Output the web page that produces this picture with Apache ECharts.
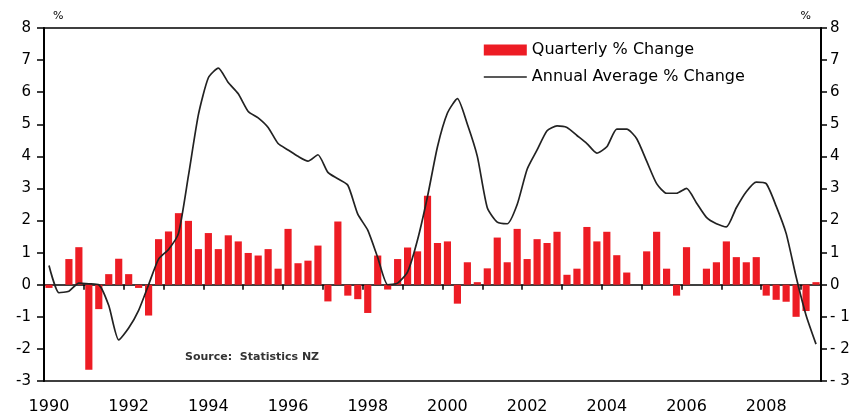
<!DOCTYPE html>
<html>
<head>
<meta charset="utf-8">
<script src="https://cdn.jsdelivr.net/npm/echarts@6/dist/echarts.min.js"></script>
<style>
  html, body { margin: 0; padding: 0; background: #fff; }
  #chart { width: 858px; height: 420px; }
</style>
</head>
<body>
<div id="chart"></div>
<script>
// quarters 1990 Q1 .. 2009 Q2
const quarters = []
for (let y = 1990; y <= 2009; y++) {
  for (let q = 1; q <= 4; q++) {
    if (y === 2009 && q > 2) break
    quarters.push(y + ' Q' + q)
  }
}

// Quarterly % change (bars)
const quarterlyChange = [
  -0.1, 0.0, 0.8, 1.17, -2.65, -0.76, 0.33, 0.81, 0.33, -0.1,
  -0.96, 1.42, 1.66, 2.23, 1.99, 1.11, 1.61, 1.11, 1.54, 1.35,
  0.99, 0.91, 1.11, 0.5, 1.74, 0.67, 0.75, 1.22, -0.52, 1.97,
  -0.34, -0.45, -0.88, 0.91, -0.15, 0.8, 1.16, 1.04, 2.77, 1.3,
  1.35, -0.59, 0.7, 0.08, 0.51, 1.47, 0.7, 1.74, 0.8, 1.42,
  1.3, 1.65, 0.31, 0.5, 1.8, 1.35, 1.65, 0.92, 0.38, 0.0,
  1.04, 1.65, 0.5, -0.34, 1.17, 0.0, 0.5, 0.7, 1.35, 0.86,
  0.7, 0.86, -0.34, -0.47, -0.53, -1.0, -0.82, 0.08
]

// Annual average % change (line)
const annualAvgChange = [
  0.6, -0.25, -0.2, 0.05, 0.03, 0.0, -0.65, -1.72, -1.35, -0.8,
  0.0, 0.8, 1.1, 1.6, 3.4, 5.3, 6.45, 6.75, 6.3, 5.95,
  5.4, 5.2, 4.9, 4.4, 4.2, 4.0, 3.85, 4.05, 3.5, 3.3,
  3.1, 2.2, 1.7, 0.85, 0.0, 0.05, 0.4, 1.4, 2.75, 4.3,
  5.35, 5.8, 5.0, 4.0, 2.4, 1.95, 1.9, 2.5, 3.6, 4.2,
  4.8, 4.95, 4.9, 4.65, 4.4, 4.1, 4.3, 4.85, 4.85, 4.55,
  3.85, 3.15, 2.85, 2.85, 3.0, 2.55, 2.1, 1.9, 1.8, 2.4,
  2.9, 3.2, 3.15, 2.45, 1.6, 0.25, -0.95, -1.85
]

const yMin = -3
const yMax = 8
const seriesNames = ['Quarterly % Change', 'Annual Average % Change']

const chart = echarts.init(document.getElementById('chart'))

const yAxisBase = {
  type: 'value',
  min: yMin,
  max: yMax,
  interval: 1,
  splitLine: { show: false },
  axisLine: { show: true, lineStyle: { color: '#000', width: 2 } },
  axisTick: { show: true, length: 7, lineStyle: { color: '#000', width: 1.5 } },
  nameTextStyle: { color: '#000', fontSize: 11, fontFamily: 'DejaVu Sans' }
}

chart.setOption({
  animation: false,
  backgroundColor: '#fff',
  grid: {
    left: 44,
    right: 37,
    top: 28,
    bottom: 39,
    show: true,
    borderColor: '#000',
    borderWidth: 1.5,
    containLabel: false
  },
  legend: {
    orient: 'vertical',
    left: 478,
    top: 37,
    itemWidth: 43,
    itemHeight: 11,
    itemGap: 11,
    textStyle: { color: '#000', fontSize: 16, fontFamily: 'DejaVu Sans' },
    data: [
      { name: seriesNames[0], icon: 'rect' },
      { name: seriesNames[1], itemStyle: { opacity: 0 }, lineStyle: { color: '#222', width: 1.6 } }
    ]
  },
  xAxis: [{
    type: 'category',
    data: quarters,
    position: 'bottom',
    axisLine: { onZero: true, lineStyle: { color: '#000', width: 1.5 } },
    axisTick: { show: true, interval: 3, length: 5, lineStyle: { color: '#000', width: 1.5 } },
    axisLabel: { show: false },
    splitLine: { show: false }
  }, {
    type: 'category',
    data: quarters,
    position: 'bottom',
    axisLine: { show: false, onZero: false },
    axisTick: { show: false },
    axisLabel: {
      interval: 7,
      margin: 18,
      color: '#000',
      fontSize: 16,
      fontFamily: 'DejaVu Sans',
      formatter: (v) => v.slice(0, 4)
    },
    splitLine: { show: false }
  }],
  yAxis: [Object.assign({}, yAxisBase, {
    position: 'left',
    name: '%',
    nameLocation: 'end',
    nameGap: 6,
    nameTextStyle: Object.assign({}, yAxisBase.nameTextStyle, { align: 'left', padding: [0, 0, 0, 9] }),
    axisLabel: { margin: 13, color: '#000', fontSize: 15, fontFamily: 'DejaVu Sans' }
  }), Object.assign({}, yAxisBase, {
    position: 'right',
    name: '%',
    nameLocation: 'end',
    nameGap: 6,
    nameTextStyle: Object.assign({}, yAxisBase.nameTextStyle, { align: 'right', padding: [0, 10, 0, 0] }),
    axisTick: { show: true, length: 6, lineStyle: { color: '#000', width: 1.5 } },
    axisLabel: {
      margin: 9,
      color: '#000',
      fontSize: 15,
      fontFamily: 'DejaVu Sans',
      formatter: (v) => (v < 0 ? '- ' + Math.abs(v) : String(v))
    }
  })],
  graphic: [{
    type: 'text',
    left: 185,
    top: 352,
    style: {
      text: 'Source:  Statistics NZ',
      fontSize: 11,
      fontWeight: 'bold',
      fontFamily: 'DejaVu Sans',
      fill: '#333'
    }
  }],
  series: [{
    name: seriesNames[0],
    type: 'bar',
    xAxisIndex: 0,
    yAxisIndex: 0,
    barWidth: '72%',
    itemStyle: { color: '#ED1C24' },
    data: quarterlyChange
  }, {
    name: seriesNames[1],
    type: 'line',
    xAxisIndex: 0,
    yAxisIndex: 0,
    symbol: 'none',
    smooth: 0.2,
    lineStyle: { color: '#222', width: 1.7 },
    itemStyle: { color: '#222' },
    z: 3,
    data: annualAvgChange
  }]
})
</script>
</body>
</html>
